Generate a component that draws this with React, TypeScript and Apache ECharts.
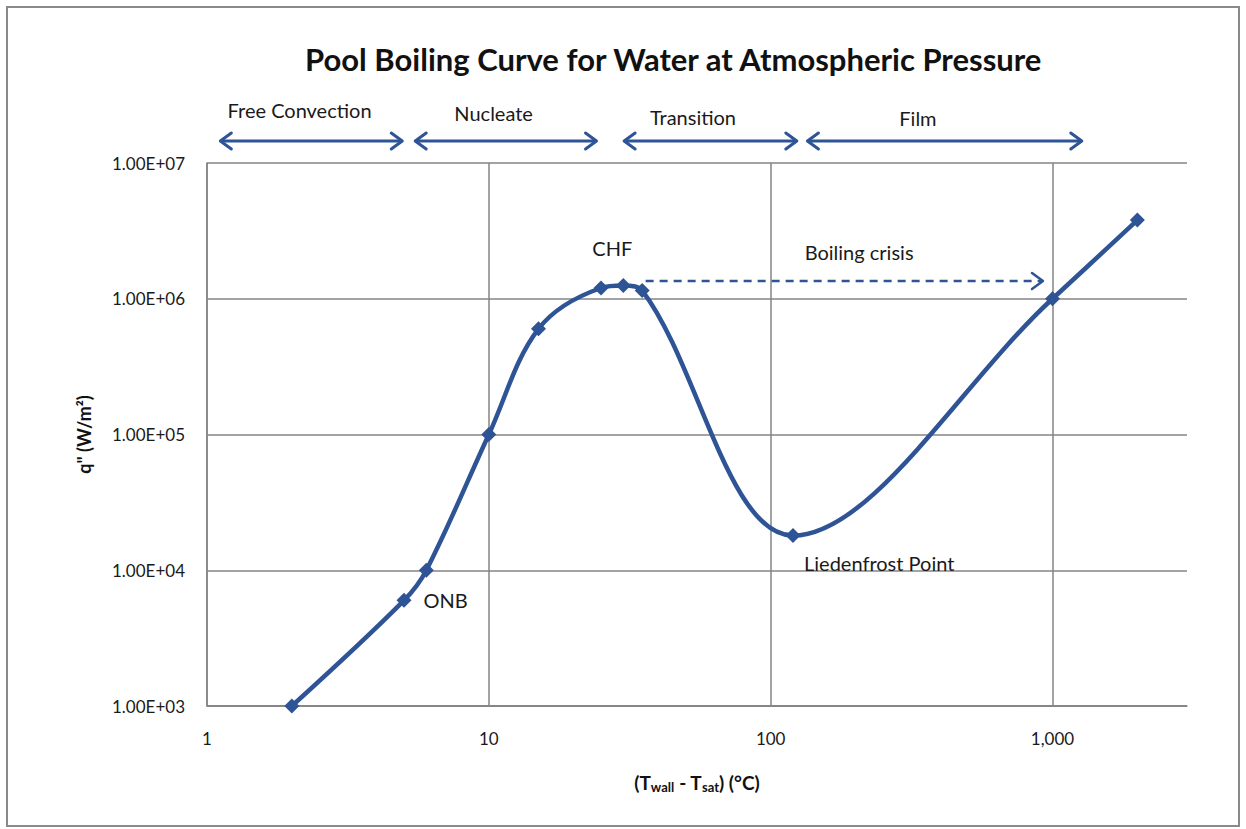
import React, { useEffect, useRef } from "react";
import * as echarts from "echarts";

// ---- data ----
const deltaT = [2, 5, 6, 10, 15, 25, 30, 35, 120, 1000, 2000];
const heatFlux = [1000, 6000, 10000, 100000, 600000, 1200000, 1250000, 1150000, 18000, 1000000, 3800000];
const pointLabels = ["", "ONB", "", "", "", "", "CHF", "", "Liedenfrost Point", "", ""];
const regionNames = ["Free Convection", "Nucleate", "Transition", "Film"];
const regionStart = [1.115, 5.48, 30.2, 135];
const regionEnd = [4.93, 24.1, 123.8, 1270];
const regionLabelAt = [2.13, 10.4, 53, 333];
const crisisStart = [36, 1.35e6];
const crisisEnd = [925, 1.35e6];

const BLUE = "#2E5496";
const GRID = "#858585";
const FONT = "Lato, 'Open Sans', sans-serif";
const labelTop = [110, 113, 117, 118];

function sci(v: number) {
  const e = Math.round(Math.log10(v));
  const m = v / Math.pow(10, e);
  return m.toFixed(2) + "E+" + (e < 10 ? "0" + e : String(e));
}

export default function App() {
  const ref = useRef<HTMLDivElement>(null);
  useEffect(() => {
    document.body.style.margin = "0";
    const chart = echarts.init(ref.current!, null, { renderer: "svg" });
    const data = deltaT.map((x, i) => {
      const item: any = { value: [x, heatFlux[i]] };
      const lab = pointLabels[i];
      if (lab === "ONB") {
        item.label = { show: true, formatter: lab, position: "right", distance: 12 };
      } else if (lab === "CHF") {
        item.label = { show: true, formatter: lab, position: "top", distance: 20, offset: [-11, 0] };
      } else if (lab) {
        item.label = { show: true, formatter: lab, position: "bottom", distance: 10, align: "left", offset: [11, 0] };
      }
      return item;
    });
    const option: any = {
      animation: false,
      backgroundColor: "#ffffff",
      textStyle: { fontFamily: FONT },
      title: {
        text: "Pool Boiling Curve for Water at Atmospheric Pressure",
        left: 300,
        top: 38,
        textStyle: { fontFamily: FONT, fontSize: 31, fontWeight: "bold", color: "#111111" },
      },
      grid: { left: 207, top: 163, right: 59, bottom: 123, containLabel: false },
      xAxis: {
        type: "log",
        logBase: 10,
        min: 1,
        max: 3000,
        name: "{p|(T}{sub|wall}{p| - T}{sub|sat}{p|) (°C)}",
        nameLocation: "middle",
        nameGap: 65,
        nameTextStyle: {
          rich: {
            p: { fontFamily: FONT, fontSize: 19, fontWeight: "bold", color: "#111111" },
            sub: { fontFamily: FONT, fontSize: 13, fontWeight: "bold", color: "#111111", verticalAlign: "bottom", padding: [9, 0, 0, 0] },
          },
        },
        axisLine: { show: true, lineStyle: { color: GRID, width: 1.5 } },
        axisTick: { show: false },
        axisLabel: {
          fontFamily: FONT,
          fontSize: 17,
          color: "#1a1a1a",
          margin: 24,
          showMaxLabel: false,
          formatter: (v: number) => {
            const l = Math.log10(v);
            if (Math.abs(l - Math.round(l)) > 1e-6) return "";
            return Math.round(v).toLocaleString("en-US");
          },
        },
        splitLine: { show: true, showMaxLine: false, lineStyle: { color: GRID, width: 1.5 } },
      },
      yAxis: {
        type: "log",
        logBase: 10,
        min: 1000,
        max: 10000000,
        name: 'q" (W/m²)',
        nameLocation: "middle",
        nameGap: 114,
        nameMoveOverlap: false,
        nameRotate: 90,
        nameTextStyle: { fontFamily: FONT, fontSize: 18, fontWeight: "bold", color: "#111111" },
        axisLine: { show: true, lineStyle: { color: GRID, width: 1.5 } },
        axisTick: { show: false },
        axisLabel: { fontFamily: FONT, fontSize: 17, color: "#1a1a1a", margin: 22, formatter: (v: number) => sci(v) },
        splitLine: { show: true, lineStyle: { color: GRID, width: 1.5 } },
      },
      series: [
        {
          type: "line",
          data,
          smooth: 0.35,
          symbol: "diamond",
          symbolSize: 15,
          lineStyle: { color: BLUE, width: 4.5 },
          itemStyle: { color: BLUE },
          label: { fontFamily: FONT, fontSize: 20, color: "#1a1a1a" },
          clip: false,
          z: 5,
        },
      ],
    };
    chart.setOption(option);

    const px = (v: number) => chart.convertToPixel({ xAxisIndex: 0 }, v) as number;
    const py = (v: number) => chart.convertToPixel({ yAxisIndex: 0 }, v) as number;
    const g: any[] = [];
    g.push({
      type: "rect",
      shape: { x: 7, y: 7, width: 1232, height: 819 },
      style: { fill: "none", stroke: "#8a8a8a", lineWidth: 2 },
      silent: true,
    });
    const arrowY = 141;
    const head = (x: number, y: number, dir: number, w = 3) => ({
      type: "polyline",
      shape: { points: [[x - dir * 11, y - 8], [x, y], [x - dir * 11, y + 8]] },
      style: { stroke: BLUE, lineWidth: w, fill: "none", lineJoin: "round", lineCap: "round" },
    });
    regionNames.forEach((name, i) => {
      const x1 = px(regionStart[i]);
      const x2 = px(regionEnd[i]);
      g.push({
        type: "line",
        shape: { x1: x1 + 1, y1: arrowY, x2: x2 - 1, y2: arrowY },
        style: { stroke: BLUE, lineWidth: 3 },
      });
      g.push(head(x1, arrowY, -1));
      g.push(head(x2, arrowY, 1));
      g.push({
        type: "text",
        x: px(regionLabelAt[i]),
        y: labelTop[i],
        style: { text: name, font: `20px ${FONT}`, fill: "#1a1a1a", textAlign: "center", textVerticalAlign: "middle" },
      });
    });
    const cx1 = px(crisisStart[0]);
    const cx2 = px(crisisEnd[0]);
    const cy = py(crisisStart[1]);
    g.push({
      type: "line",
      shape: { x1: cx1, y1: cy, x2: cx2 - 2, y2: cy },
      style: { stroke: BLUE, lineWidth: 2.5, lineDash: [8, 6] },
    });
    g.push(head(cx2, cy, 1, 2.5));
    g.push({
      type: "text",
      x: px(132),
      y: 252,
      style: { text: "Boiling crisis", font: `20px ${FONT}`, fill: "#1a1a1a", textAlign: "left", textVerticalAlign: "middle" },
    });
    chart.setOption({ graphic: g });

    return () => chart.dispose();
  }, []);
  return <div ref={ref} style={{ width: 1246, height: 829 }} />;
}
